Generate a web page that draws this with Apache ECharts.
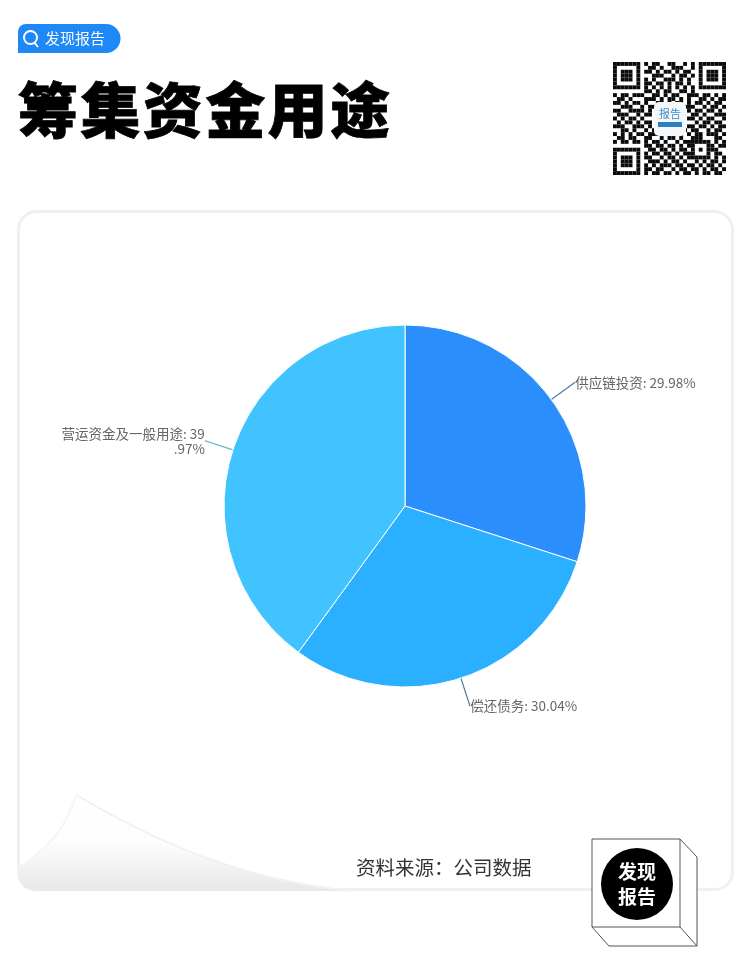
<!DOCTYPE html>
<html>
<head>
<meta charset="utf-8">
<style>
html, body { margin: 0; padding: 0; background: #fff; }
#chart { width: 750px; height: 978px; }
</style>
<script src="https://cdn.jsdelivr.net/npm/echarts@6/dist/echarts.min.js"></script>
</head>
<body>
<div id="chart"></div>
<script>
const titleText = '筹集资金用途';
const badgeText = '发现报告';
const sourceText = '资料来源：公司数据';

// 饼图数据
const categories = ['供应链投资', '偿还债务', '营运资金及一般用途'];
const shares = [29.98, 30.04, 39.97];
const sliceColors = ['#2B8EFD', '#2BB0FF', '#41C3FF'];
const guideColors = ['#4F82AE', '#4A7A95', '#6DB6CC'];

const cjk = '"Noto Sans CJK SC", sans-serif';

// 二维码只是装饰，按行画
const qrRows = [
  '11111110101100110010101111111',
  '10000010011010011100101000001',
  '10111010110101101011001011101',
  '10111010001110010110101011101',
  '10111010101001110101001011101',
  '10000010110110101101001000001',
  '11111110101010101010101111111',
  '00000000110101100110100000000',
  '10110111001101011001110110101',
  '01101000111010110101001101011',
  '11010110100110101101011010110',
  '00111001011000000011100101101',
  '11001111010000000001011011010',
  '01110010110000000000110100111',
  '10101101000000000001101011001',
  '01011010110000000000010110110',
  '11100111010000000001101101011',
  '00110100101000000010110010110',
  '10101011011101101101011011101',
  '01101100110010110100111000110',
  '10110110101101001011111110101',
  '00000000110110110101100011011',
  '11111110011011010110101011100',
  '10000010101101101011100010110',
  '10111010110010110101111110101',
  '10111010011101011010010101101',
  '10111010101011101101101011010',
  '10000010110110010110110101101',
  '11111110101101101011010110110'
];

const qrCells = [];
const qrSize = 113 / qrRows.length;
qrRows.forEach((row, r) => {
  row.split('').forEach((c, i) => {
    if (c === '1') {
      qrCells.push({
        type: 'rect',
        silent: true,
        shape: { x: 613 + i * qrSize, y: 62 + r * qrSize, width: qrSize, height: qrSize },
        style: { fill: '#0b0b0b' }
      });
    }
  });
});

// 标题逐字摆放，字距比字体默认的大
const titleChars = titleText.split('').map((ch, i) => ({
  type: 'text',
  silent: true,
  z: 3,
  style: {
    text: ch, x: 18 + i * 62.4, y: 110, fill: '#000', stroke: '#000', lineWidth: 0.8,
    font: '900 60px ' + cjk, verticalAlign: 'middle'
  }
}));

// 卷页的形状，graphic 组件没有 path 类型，需要先注册
echarts.graphic.registerShape('curlFill', echarts.graphic.extendPath(
  'M76 795 C 66 830 46 850 18 868 L 18 872 Q 18 891 38 891 L 350 891 C 250 880 170 850 76 795 Z'));
echarts.graphic.registerShape('curlEdgeRight', echarts.graphic.extendPath('M76 795 C 170 850 250 880 350 891'));
echarts.graphic.registerShape('curlEdgeLeft', echarts.graphic.extendPath('M76 795 C 66 830 46 850 18 868'));

const lineStyle = { stroke: '#555', fill: 'none', lineWidth: 1 };

const chart = echarts.init(document.getElementById('chart'), null, { renderer: 'canvas' });
chart.setOption({
  animation: false,
  backgroundColor: '#fff',
  graphic: { elements: [
    // 卡片外框
    { type: 'rect', silent: true, z: 0,
      shape: { x: 18.5, y: 211.5, width: 714, height: 678, r: 18 },
      style: { fill: '#fff', stroke: '#f0f0f0', lineWidth: 3 } },
    // 左下角卷页
    { type: 'curlFill', silent: true, z: 1,
      style: {
        fill: new echarts.graphic.LinearGradient(0, 0, 0, 1, [
          { offset: 0, color: '#ffffff' },
          { offset: 0.5, color: '#fdfdfd' },
          { offset: 0.8, color: '#f0f0f0' },
          { offset: 1, color: '#e8e8e8' }
        ])
      } },
    { type: 'curlEdgeRight', silent: true, z: 1,
      style: { fill: 'none', stroke: '#f1f1f1', lineWidth: 2 } },
    { type: 'curlEdgeLeft', silent: true, z: 1,
      style: { fill: 'none', stroke: '#f5f5f5', lineWidth: 2 } },
    // 顶部标签
    { type: 'rect', silent: true, z: 2,
      shape: { x: 18, y: 24, width: 102.5, height: 29, r: [8, 14.5, 14.5, 0] },
      style: { fill: '#1E88F7' } },
    { type: 'circle', silent: true, z: 3,
      shape: { cx: 30.5, cy: 37.5, r: 6.5 },
      style: { fill: 'none', stroke: '#fff', lineWidth: 2 } },
    { type: 'line', silent: true, z: 3,
      shape: { x1: 34, y1: 42, x2: 38, y2: 47 },
      style: { stroke: '#fff', lineWidth: 2 } },
    { type: 'text', silent: true, z: 3,
      style: { text: badgeText, x: 45, y: 38.5, fill: '#fff', font: '15px ' + cjk, verticalAlign: 'middle' } },
    // 标题
    { type: 'group', silent: true, z: 3, children: titleChars },
    // 二维码
    { type: 'group', silent: true, z: 3, children: qrCells },
    { type: 'rect', silent: true, z: 4,
      shape: { x: 654, y: 102, width: 32, height: 34, r: 5 },
      style: { fill: '#f4f8fb' } },
    { type: 'text', silent: true, z: 5,
      style: { text: '报告', x: 670, y: 114, fill: '#3d8fc9', font: '11px ' + cjk, align: 'center', verticalAlign: 'middle' } },
    { type: 'rect', silent: true, z: 5,
      shape: { x: 658, y: 122, width: 24, height: 5 },
      style: { fill: '#2f7fc0' } },
    // 数据来源
    { type: 'text', silent: true, z: 3,
      style: { text: sourceText, x: 356, y: 868, fill: '#333', font: '19.5px ' + cjk, verticalAlign: 'middle' } },
    // 右下角立体标识
    { type: 'polygon', silent: true, z: 6,
      shape: { points: [[592, 839], [680, 839], [697, 857], [697, 946], [609, 946], [592, 927]] },
      style: { fill: '#fff', stroke: '#555', lineWidth: 1 } },
    { type: 'polyline', silent: true, z: 7,
      shape: { points: [[680, 839], [680, 927], [592, 927]] },
      style: lineStyle },
    { type: 'line', silent: true, z: 7,
      shape: { x1: 680, y1: 927, x2: 697, y2: 946 },
      style: lineStyle },
    { type: 'circle', silent: true, z: 7,
      shape: { cx: 637, cy: 884, r: 36 },
      style: { fill: '#000' } },
    { type: 'text', silent: true, z: 8,
      style: { text: '发现\n报告', x: 637, y: 884, fill: '#fff', font: '700 19px ' + cjk,
        lineHeight: 25, align: 'center', verticalAlign: 'middle' } }
  ] },
  series: [{
    type: 'pie',
    center: [405, 506],
    radius: [0, 181],
    startAngle: 90,
    clockwise: true,
    z: 3,
    itemStyle: { borderColor: '#fff', borderWidth: 1 },
    label: {
      show: true,
      position: 'outside',
      formatter: p => p.name + ': ' + p.value + '%',
      color: '#666',
      fontSize: 13.5,
      fontFamily: cjk,
      lineHeight: 15,
      distanceToLabelLine: 0
    },
    labelLine: { show: true, length: 29, length2: 0.5, lineStyle: { width: 1.2 } },
    data: categories.map((name, i) => ({
      name,
      value: shares[i],
      itemStyle: { color: sliceColors[i] },
      labelLine: { lineStyle: { color: guideColors[i] } },
      // 左侧标签原图在数字中间折行
      label: i === 2 ? { width: 145, overflow: 'breakAll', align: 'right' } : undefined
    }))
  }]
});
</script>
</body>
</html>
